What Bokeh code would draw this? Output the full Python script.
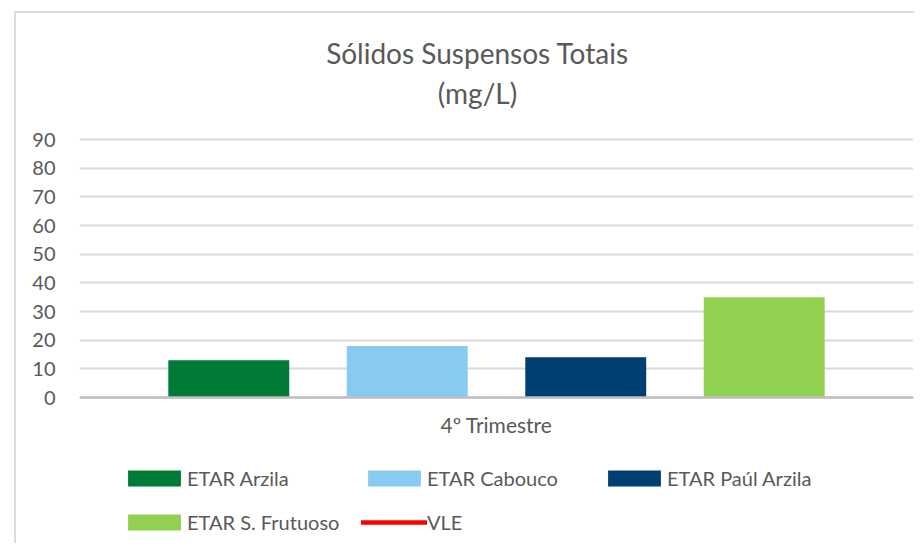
from bokeh.plotting import figure
from bokeh.models import ColumnDataSource, FactorRange, Range1d, Legend, LegendItem, FixedTicker, Span
from bokeh.transform import dodge
from bokeh.core.properties import value
from bokeh.embed import file_html
from bokeh.resources import INLINE

# ---- data ----
categories = ["4º Trimestre"]
series_names = ["ETAR Arzila", "ETAR Cabouco", "ETAR Paúl Arzila", "ETAR S. Frutuoso"]
arzila = [13]
cabouco = [18]
paul_arzila = [14]
s_frutuoso = [35]
vle = [60]
y_ticks = [0, 10, 20, 30, 40, 50, 60, 70, 80, 90]
title_line1 = "Sólidos Suspensos Totais"
title_line2 = "(mg/L)"

series_values = [arzila, cabouco, paul_arzila, s_frutuoso]
colors = ["#007A37", "#89CAF0", "#003F72", "#92D050"]
offsets = [-0.321, -0.107, 0.107, 0.321]

FONT = "Lato"
TXT = "#595959"

# layout (pixels)
W, H = 900, 532
LEFT, RIGHT = 63, 3
TOP_PX = 126            # frame area kept above the 90 line for the title
VALUE_PX = 258          # height in px of the 0..90 value band
BELOW_PX = H - TOP_PX - VALUE_PX   # frame area kept below the zero line for labels/legend
y_max = y_ticks[-1]
y_min = -y_max * BELOW_PX / VALUE_PX
y_top = y_max + y_max * TOP_PX / VALUE_PX

p = figure(
    width=W, height=H,
    x_range=FactorRange(factors=categories, range_padding=0),
    y_range=Range1d(y_min, y_top),
    x_axis_location=None, title_location=None,
    output_backend="svg", toolbar_location=None,
    min_border_left=LEFT, min_border_right=RIGHT, min_border_top=0, min_border_bottom=0,
)
p.margin = (11, 0, 0, 14)
p.styles = {"border-top": "2px solid #dcdcdc", "border-left": "2px solid #dcdcdc"}

# title (two centred lines above the value band)
title_src = ColumnDataSource(dict(x=categories, y=[y_max]))
p.text(x="x", y="y", text=value(title_line1), source=title_src, x_offset=-19, y_offset=-87,
       text_align="center", text_baseline="middle",
       text_font=value(FONT), text_font_size="28px", text_color=TXT)
p.text(x="x", y="y", text=value(title_line2), source=title_src, x_offset=-19, y_offset=-47,
       text_align="center", text_baseline="middle",
       text_font=value(FONT), text_font_size="28px", text_color=TXT)

renderers = []
for name, vals, col, off in zip(series_names, series_values, colors, offsets):
    src = ColumnDataSource(dict(x=categories, top=vals))
    r = p.vbar(x=dodge("x", off, range=p.x_range), top="top", width=0.145, bottom=0,
               source=src, fill_color=col, line_color=None)
    renderers.append(r)

vle_src = ColumnDataSource(dict(x=categories, y=vle))
r_vle = p.line(x="x", y="y", source=vle_src, line_color="#FF0000", line_width=4.5, line_cap="round")
renderers.append(r_vle)

# category axis line and label
p.add_layout(Span(location=0, dimension="width", line_color="#BFBFBF", line_width=2.5))
cat_src = ColumnDataSource(dict(x=categories, y=[0], label=categories))
p.text(x="x", y="y", text="label", source=cat_src, y_offset=27,
       text_align="center", text_baseline="middle",
       text_font=value(FONT), text_font_size="21px", text_color=TXT)

labels = series_names + ["VLE"]
legend = Legend(
    items=[LegendItem(label=l, renderers=[r]) for l, r in zip(labels, renderers)],
    ncols=3, orientation="horizontal",
    location=(42, 11), margin=0, padding=0,
    glyph_width=66, glyph_height=20, label_standoff=0,
    label_width=154, label_height=20, spacing=20,
    label_text_font=FONT, label_text_font_size="20px", label_text_color=TXT,
    border_line_color=None, background_fill_alpha=0,
)
p.add_layout(legend, "center")

# y axis
p.yaxis.ticker = FixedTicker(ticks=y_ticks)
p.yaxis.axis_line_color = None
p.yaxis.major_tick_line_color = None
p.yaxis.minor_tick_line_color = None
p.yaxis.major_label_standoff = 18
p.yaxis.major_label_text_font = FONT
p.yaxis.major_label_text_font_size = "20px"
p.yaxis.major_label_text_color = TXT

p.xgrid.grid_line_color = None
p.ygrid.ticker = FixedTicker(ticks=y_ticks)
p.ygrid.grid_line_color = "#D9D9D9"
p.ygrid.grid_line_width = 2
p.outline_line_color = None

open("out.html", "w").write(file_html(p, INLINE))
